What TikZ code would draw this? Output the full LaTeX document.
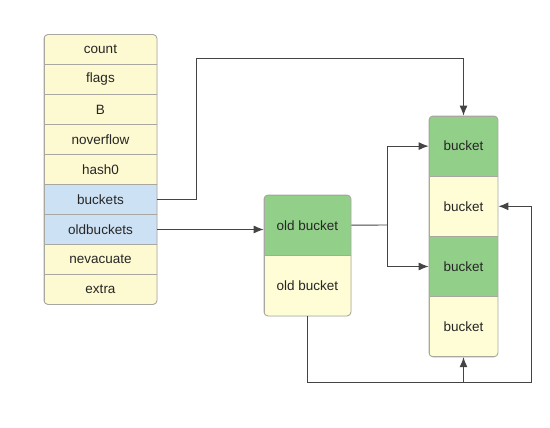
\documentclass[tikz,border=0pt]{standalone}
\usepackage{fontspec}
\setmainfont{Liberation Sans}
\usetikzlibrary{arrows.meta}
\definecolor{yel}{HTML}{FDF9D0}
\definecolor{yel2}{HTML}{FFFDD6}
\definecolor{blu}{HTML}{CDE1F4}
\definecolor{grn}{HTML}{92D08A}
\definecolor{bord}{HTML}{A8A8A0}
\definecolor{conn}{HTML}{444444}
\tikzset{
  cell/.style={draw=bord, line width=0.8pt, inner sep=0pt, text=black!85,
    font=\fontsize{13.5}{15}\selectfont},
  fcell/.style={cell, minimum width=113pt, minimum height=30pt},
  ocell/.style={cell, minimum width=87pt, minimum height=60.5pt},
  bcell/.style={cell, minimum width=69pt, minimum height=60.2pt},
  outer/.style={draw=bord, line width=0.9pt, rounded corners=4pt},
  link/.style={draw=conn, line width=0.9pt},
  arr/.style={link, -{Latex[length=10pt,width=8pt]}},
}
\begin{document}
\begin{tikzpicture}[x=1pt,y=-1pt]
\useasboundingbox (0,0) rectangle (550,428);
% left struct
\begin{scope}
\clip[rounded corners=4pt] (44,34.5) rectangle (157,304.5);
\node[fcell, fill=yel] (count) at (100.5,49.5) {count};
\node[fcell, fill=yel] (flags) at (100.5,79.5) {flags};
\node[fcell, fill=yel] (B) at (100.5,109.5) {B};
\node[fcell, fill=yel] (noverflow) at (100.5,139.5) {noverflow};
\node[fcell, fill=yel] (hash0) at (100.5,169.5) {hash0};
\node[fcell, fill=blu] (buckets) at (100.5,199.5) {buckets};
\node[fcell, fill=blu] (oldbuckets) at (100.5,229.5) {oldbuckets};
\node[fcell, fill=yel] (nevacuate) at (100.5,259.5) {nevacuate};
\node[fcell, fill=yel] (extra) at (100.5,289.5) {extra};
\end{scope}
\draw[outer] (44,34.5) rectangle (157,304.5);
% old buckets
\begin{scope}
\clip[rounded corners=4pt] (264,195) rectangle (351,316);
\node[ocell, fill=grn] (ob1) at (307.5,225.2) {old bucket};
\node[ocell, fill=yel2] (ob2) at (307.5,285.7) {old bucket};
\end{scope}
\draw[outer] (264,195) rectangle (351,316);
% new buckets
\begin{scope}
\clip[rounded corners=4pt] (429,116) rectangle (498,356.8);
\node[bcell, fill=grn] (b1) at (463.5,146.1) {bucket};
\node[bcell, fill=yel2] (b2) at (463.5,206.3) {bucket};
\node[bcell, fill=grn] (b3) at (463.5,266.5) {bucket};
\node[bcell, fill=yel2] (b4) at (463.5,326.7) {bucket};
\end{scope}
\draw[outer] (429,116) rectangle (498,356.8);
% connectors
\coordinate (c1) at (196,58);
\draw[arr] (buckets.east) -| (c1) -| (b1.north);
\draw[arr] (oldbuckets.east) -- (oldbuckets.east -| ob1.west);
\coordinate (j) at (387,225);
\draw[link] (ob1.east) -- (j);
\draw[arr] (j) |- (b1.west);
\draw[arr] (j) |- (b3.west);
\coordinate (l1) at (307.5,382);
\coordinate (l2) at (531,382);
\draw[arr] (ob2.south) -- (l1) -- (l2) |- (b2.east);
\draw[arr] (b4.south |- l1) -- (b4.south);
\end{tikzpicture}
\end{document}
